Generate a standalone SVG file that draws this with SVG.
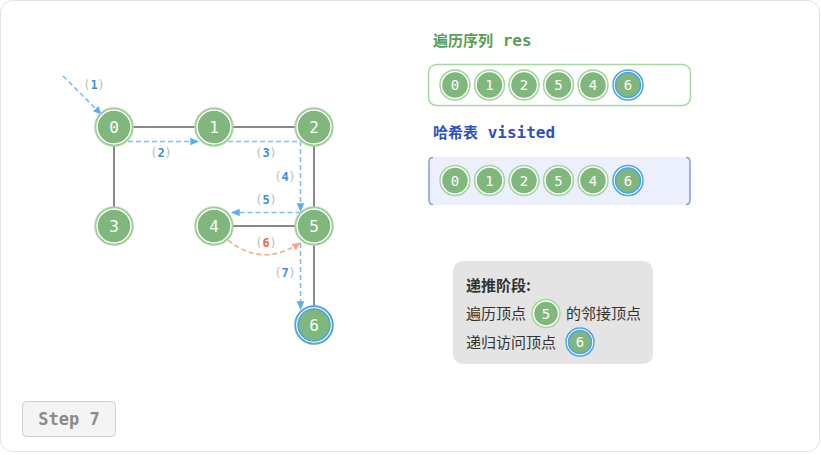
<svg xmlns="http://www.w3.org/2000/svg" width="821" height="455" viewBox="0 0 821 455">
<style>
.nd{fill:#7fb77c;stroke:#a9d5a3;stroke-width:1.5}
.ring{fill:none;stroke:#fff;stroke-width:1.5}
.nt{font-family:"DejaVu Sans Mono",monospace;font-size:16px;fill:#fff;text-anchor:middle;dominant-baseline:central}
.edge{stroke:#8a8a8a;stroke-width:2;fill:none}
.arr{stroke:#7cc0f5;stroke-width:1.6;stroke-dasharray:5 3;fill:none;marker-end:url(#ab)}
.arro{stroke:#f4a98a;stroke-width:1.6;stroke-dasharray:5 3;fill:none;marker-end:url(#ao)}
.lb{font-family:"DejaVu Sans Mono",monospace;font-size:12px;text-anchor:middle}
.pa{fill:#bdbdbd}
.nb{fill:#3d8fe0;font-weight:bold}
.no{fill:#f06b3c;font-weight:bold}
.sel{fill:none;stroke:#4aa3f0;stroke-width:1.5}
.cj{font-family:"Noto Sans CJK SC",sans-serif;font-size:15px;fill:#333}
</style>
<defs>
<marker id="ab" viewBox="0 0 10 10" refX="8" refY="5" markerWidth="6" markerHeight="6" orient="auto"><path d="M0,1 L9,5 L0,9 z" fill="#5aaef0"/></marker>
<marker id="ao" viewBox="0 0 10 10" refX="8" refY="5" markerWidth="6" markerHeight="6" orient="auto"><path d="M0,1 L9,5 L0,9 z" fill="#f4a98a"/></marker>
</defs>
<rect x="0.5" y="0.5" width="819" height="451" rx="12" fill="#fff" stroke="#e2e2e2"/>
<g id="connectors">
<line class="edge" x1="114" y1="127" x2="314" y2="127"/>
<line class="edge" x1="114" y1="127" x2="114" y2="226"/>
<line class="edge" x1="314" y1="127" x2="314" y2="325"/>
<line class="edge" x1="214" y1="226" x2="314" y2="226"/>
<path class="arr" d="M63,76 L101,114"/>
<path class="arr" d="M128,141.5 L198,141.5"/>
<path class="arr" d="M228,141.5 L300.5,141.5 L300.5,211"/>
<path class="arr" d="M300.5,212.5 L232,212.5"/>
<path class="arro" d="M228,240 Q262,268 300,243"/>
<path class="arr" d="M300.5,243 L300.5,309"/>
<text class="lb" x="94" y="89"><tspan class="pa">(</tspan><tspan class="nb">1</tspan><tspan class="pa">)</tspan></text>
<text class="lb" x="161" y="157"><tspan class="pa">(</tspan><tspan class="nb">2</tspan><tspan class="pa">)</tspan></text>
<text class="lb" x="266" y="157"><tspan class="pa">(</tspan><tspan class="nb">3</tspan><tspan class="pa">)</tspan></text>
<text class="lb" x="285" y="181"><tspan class="pa">(</tspan><tspan class="nb">4</tspan><tspan class="pa">)</tspan></text>
<text class="lb" x="266" y="204"><tspan class="pa">(</tspan><tspan class="nb">5</tspan><tspan class="pa">)</tspan></text>
<text class="lb" x="266" y="247"><tspan class="pa">(</tspan><tspan class="no">6</tspan><tspan class="pa">)</tspan></text>
<text class="lb" x="285" y="277"><tspan class="pa">(</tspan><tspan class="nb">7</tspan><tspan class="pa">)</tspan></text>
</g>
<g id="n0"><circle class="nd" cx="114" cy="127" r="19"/><circle class="ring" cx="114" cy="127" r="17"/><text class="nt" x="114" y="127">0</text></g>
<g id="n1"><circle class="nd" cx="214" cy="127" r="19"/><circle class="ring" cx="214" cy="127" r="17"/><text class="nt" x="214" y="127">1</text></g>
<g id="n2"><circle class="nd" cx="314" cy="127" r="19"/><circle class="ring" cx="314" cy="127" r="17"/><text class="nt" x="314" y="127">2</text></g>
<g id="n3"><circle class="nd" cx="114" cy="226" r="19"/><circle class="ring" cx="114" cy="226" r="17"/><text class="nt" x="114" y="226">3</text></g>
<g id="n4"><circle class="nd" cx="214" cy="226" r="19"/><circle class="ring" cx="214" cy="226" r="17"/><text class="nt" x="214" y="226">4</text></g>
<g id="n5"><circle class="nd" cx="314" cy="226" r="19"/><circle class="ring" cx="314" cy="226" r="17"/><text class="nt" x="314" y="226">5</text></g>
<g id="n6"><circle cx="314" cy="325" r="19" fill="#7fb77c" stroke="#4aa3f0" stroke-width="1.5"/><circle class="ring" cx="314" cy="325" r="17"/><circle class="sel" cx="314" cy="325" r="16"/><text class="nt" x="314" y="325">6</text></g>

<g id="res">
<text x="433" y="46" font-family="'Noto Sans CJK SC',sans-serif" font-size="15" font-weight="bold" fill="#5a9e55">遍历序列<tspan font-family="'DejaVu Sans Mono',monospace" font-size="16"> res</tspan></text>
<rect x="428.5" y="64.5" width="262" height="41" rx="8" fill="#fff" stroke="#a8d8a2" stroke-width="1.5"/>
<circle class="nd" cx="455" cy="85" r="15"/><circle class="ring" cx="455" cy="85" r="13.5"/><text class="nt" x="455" y="85" style="font-size:14px">0</text>
<circle class="nd" cx="489.5" cy="85" r="15"/><circle class="ring" cx="489.5" cy="85" r="13.5"/><text class="nt" x="489.5" y="85" style="font-size:14px">1</text>
<circle class="nd" cx="524" cy="85" r="15"/><circle class="ring" cx="524" cy="85" r="13.5"/><text class="nt" x="524" y="85" style="font-size:14px">2</text>
<circle class="nd" cx="558.5" cy="85" r="15"/><circle class="ring" cx="558.5" cy="85" r="13.5"/><text class="nt" x="558.5" y="85" style="font-size:14px">5</text>
<circle class="nd" cx="593" cy="85" r="15"/><circle class="ring" cx="593" cy="85" r="13.5"/><text class="nt" x="593" y="85" style="font-size:14px">4</text>
<circle cx="628" cy="85" r="15" fill="#7fb77c" stroke="#4aa3f0" stroke-width="1.5"/><circle class="ring" cx="628" cy="85" r="13.5"/><circle class="sel" cx="628" cy="85" r="12.5"/><text class="nt" x="628" y="85" style="font-size:14px">6</text>
</g>

<g id="visited">
<text x="433" y="138" font-family="'Noto Sans CJK SC',sans-serif" font-size="15" font-weight="bold" fill="#2f4fc4">哈希表<tspan font-family="'DejaVu Sans Mono',monospace" font-size="16"> visited</tspan></text>
<rect x="428" y="157" width="263" height="48" rx="6" fill="#eceffc"/>
<path d="M433,157.5 Q429,157.5 429,162 L429,200 Q429,204.5 433,204.5" fill="none" stroke="#8b9be6" stroke-width="1.5"/>
<path d="M686,157.5 Q690,157.5 690,162 L690,200 Q690,204.5 686,204.5" fill="none" stroke="#8b9be6" stroke-width="1.5"/>
<circle class="nd" cx="455" cy="180.5" r="15"/><circle class="ring" cx="455" cy="180.5" r="13.5"/><text class="nt" x="455" y="180.5" style="font-size:14px">0</text>
<circle class="nd" cx="489.5" cy="180.5" r="15"/><circle class="ring" cx="489.5" cy="180.5" r="13.5"/><text class="nt" x="489.5" y="180.5" style="font-size:14px">1</text>
<circle class="nd" cx="524" cy="180.5" r="15"/><circle class="ring" cx="524" cy="180.5" r="13.5"/><text class="nt" x="524" y="180.5" style="font-size:14px">2</text>
<circle class="nd" cx="558.5" cy="180.5" r="15"/><circle class="ring" cx="558.5" cy="180.5" r="13.5"/><text class="nt" x="558.5" y="180.5" style="font-size:14px">5</text>
<circle class="nd" cx="593" cy="180.5" r="15"/><circle class="ring" cx="593" cy="180.5" r="13.5"/><text class="nt" x="593" y="180.5" style="font-size:14px">4</text>
<circle cx="628" cy="180.5" r="15" fill="#7fb77c" stroke="#4aa3f0" stroke-width="1.5"/><circle class="ring" cx="628" cy="180.5" r="13.5"/><circle class="sel" cx="628" cy="180.5" r="12.5"/><text class="nt" x="628" y="180.5" style="font-size:14px">6</text>
</g>

<g id="info">
<rect x="453" y="261" width="200" height="103" rx="10" fill="#e4e4e4"/>
<text class="cj" x="466" y="291" font-weight="bold">递推阶段:</text>
<text class="cj" x="466" y="319">遍历顶点</text>
<circle class="nd" cx="546" cy="313.5" r="14"/><circle class="ring" cx="546" cy="313.5" r="12.5"/><text class="nt" x="546" y="313.5" style="font-size:14px">5</text>
<text class="cj" x="566" y="319">的邻接顶点</text>
<text class="cj" x="466" y="347.5">递归访问顶点</text>
<circle cx="580" cy="342" r="14" fill="#7fb77c" stroke="#4aa3f0" stroke-width="1.5"/><circle class="ring" cx="580" cy="342" r="12.5"/><circle class="sel" cx="580" cy="342" r="11.5"/><text class="nt" x="580" y="342" style="font-size:14px">6</text>
</g>

<g id="step">
<rect x="22.5" y="401.5" width="93" height="35" rx="4" fill="#f4f4f4" stroke="#cfcfcf"/>
<text x="69" y="425" font-family="'DejaVu Sans Mono',monospace" font-size="17" font-weight="bold" fill="#8a8a8a" text-anchor="middle">Step 7</text>
</g>
</svg>
